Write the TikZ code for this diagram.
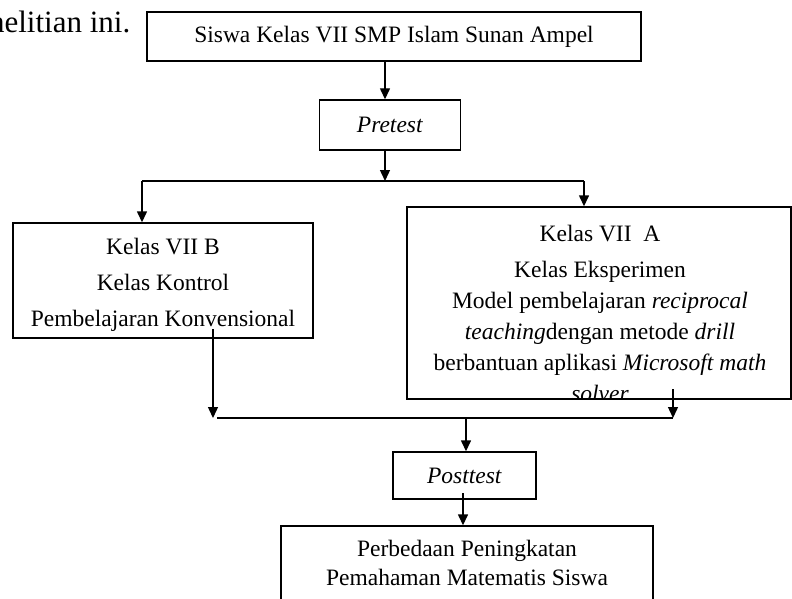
\documentclass[tikz,border=0pt]{standalone}
\usepackage{fontspec}
\setmainfont{Liberation Serif}
\usetikzlibrary{arrows.meta}

\begin{document}
\begin{tikzpicture}[x=1pt,y=-1pt,line width=1.4pt,
    >={Triangle[length=11pt,width=10pt]},
    kotak/.style={draw,rectangle,inner sep=0pt,font=\fontsize{23.5}{31}\selectfont},
    teks/.style={align=center,inner sep=0pt,font=\fontsize{23.5}{31}\selectfont}]

  \useasboundingbox (0,0) rectangle (792,599);

  \node (kalimat) [anchor=base east,inner sep=0pt,font=\fontsize{31}{36}\selectfont] at (131,33) {nelitian ini.};

  \node (siswa) [kotak,minimum width=494pt,minimum height=49pt] at (394,36.5) {Siswa Kelas VII SMP Islam Sunan Ampel};
  \node (pre) [kotak,minimum width=141pt,minimum height=50pt] at (390,125) {\textit{Pretest}};

  \node (kontrol) [kotak,minimum width=300pt,minimum height=115pt] at (163,280.5) {};
  \node (kontroltks) [teks,font=\fontsize{23.5}{36}\selectfont] at (163,285) {Kelas VII B\\Kelas Kontrol\\Pembelajaran Konvensional};

  \node (eksp) [kotak,minimum width=384pt,minimum height=192pt] at (599,303) {};
  \begin{scope}
    \clip (eksp.north west) rectangle (eksp.south east);
    \node (eksptks) [teks] at (600,313) {Kelas VII\enspace A\\[5pt]Kelas Eksperimen\\Model pembelajaran \textit{reciprocal}\\\textit{teaching}dengan metode \textit{drill}\\berbantuan aplikasi \textit{Microsoft math}\\\textit{solver}};
  \end{scope}

  \node (post) [kotak,minimum width=143pt,minimum height=47pt] at (464.5,475.5) {\textit{Posttest}};
  \node (hasil) [kotak,minimum width=372pt,minimum height=114pt] at (467,583) {};
  \node (hasiltks) [teks,font=\fontsize{23.5}{29}\selectfont] at (467,562.5) {Perbedaan Peningkatan\\Pemahaman Matematis Siswa};

  \coordinate (j1) at (385,181);
  \coordinate (jl) at (142,181);
  \coordinate (jr) at (584,181);
  \coordinate (kb) at (213,329);
  \coordinate (ka) at (673,389);
  \coordinate (ml) at (213,418);
  \coordinate (mr) at (673,418);
  \coordinate (jp) at (466,418);
  \coordinate (pb) at (463,493);

  \draw[->] (siswa.south -| j1) -- (pre.north -| j1);
  \draw[->] (pre.south -| j1) -- (j1);
  \draw (jl) -- (jr);
  \draw[->] (jl) -- (jl |- kontrol.north);
  \draw[->] (jr) -- (jr |- eksp.north);

  \draw[->] (kb) -- (ml);
  \draw[->] (ka) -- (mr);
  \draw ([xshift=4pt]ml) -- (mr);
  \draw[->] (jp) -- (jp |- post.north);
  \draw[->] (pb) -- (pb |- hasil.north);

\end{tikzpicture}
\end{document}
